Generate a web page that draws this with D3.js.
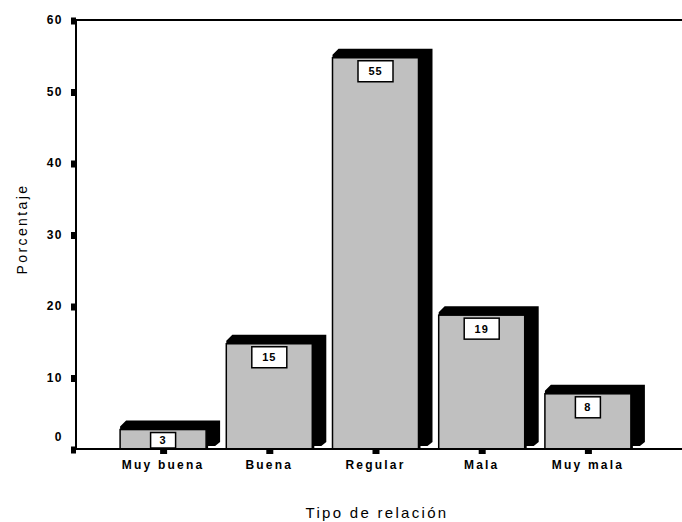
<!DOCTYPE html>
<html>
<head>
<meta charset="utf-8">
<script src="https://cdn.jsdelivr.net/npm/d3@7"></script>
<style>
  html, body { margin: 0; padding: 0; background: #fff; }
  svg { display: block; }
  text { font-family: "Liberation Sans", Arial, sans-serif; fill: #000; }
</style>
</head>
<body>
<script>
// Tipo de relación: percentage of respondents per category
const categories = ["Muy buena", "Buena", "Regular", "Mala", "Muy mala"];
const percentages = [3, 15, 55, 19, 8];
const yTicks = [0, 10, 20, 30, 40, 50, 60];

const W = 682, H = 522;
const svg = d3.select("body").append("svg").attr("width", W).attr("height", H);
svg.append("rect").attr("width", W).attr("height", H).attr("fill", "#fff");

const axisX = 76, baseY = 449, topY = 20;
const y = d3.scaleLinear().domain([0, 60]).range([baseY, topY]);
const x = d3.scaleBand().domain(categories).range([110, 641]).paddingInner(0).paddingOuter(0);

const faceW = 86, dx = 14, dy = 9;

// Bars: black extruded side/top behind a grey front face
const bars = svg.append("g");
categories.forEach((c, i) => {
  const v = percentages[i];
  const cx = x(c) + x.bandwidth() / 2;
  const x0 = cx - faceW / 2, x1 = cx + faceW / 2;
  const yF = y(v) + 2, yB = yF - dy;
  const pts = [
    [x0, yF], [x0, yF - 3], [x0 + 6, yB], [x1 + dx, yB],
    [x1 + dx, baseY - 7], [x1 + dx - 5, baseY - 3], [x1 + 2, baseY - 3], [x1 + 2, baseY], [x1, baseY]
  ];
  bars.append("polygon").attr("points", pts.map(p => p.join(",")).join(" ")).attr("fill", "#000");
  bars.append("rect")
    .attr("x", x0).attr("y", yF).attr("width", x1 - x0).attr("height", baseY - yF)
    .attr("fill", "#c0c0c0").attr("stroke", "#000").attr("stroke-width", 1.5);

  // value label box
  const label = String(v);
  const bw = label.length > 1 ? 35 : 25;
  const bt = yF + 3;
  const bb = Math.min(bt + 21, baseY - 1);
  bars.append("rect")
    .attr("x", cx - bw / 2).attr("y", bt).attr("width", bw).attr("height", bb - bt)
    .attr("fill", "#fff").attr("stroke", "#000").attr("stroke-width", 1.5);
  bars.append("text")
    .attr("x", cx).attr("y", (bt + bb) / 2 + 4)
    .attr("text-anchor", "middle").attr("font-size", 11).attr("font-weight", "bold")
    .attr("letter-spacing", 1)
    .text(label);
});

// Frame lines: top rule, left axis, baseline
svg.append("line").attr("x1", axisX).attr("x2", W).attr("y1", topY).attr("y2", topY)
  .attr("stroke", "#000").attr("stroke-width", 2);
svg.append("line").attr("x1", axisX).attr("x2", axisX).attr("y1", topY - 1).attr("y2", baseY + 1)
  .attr("stroke", "#000").attr("stroke-width", 2);
svg.append("line").attr("x1", axisX - 1).attr("x2", W).attr("y1", baseY).attr("y2", baseY)
  .attr("stroke", "#000").attr("stroke-width", 2);

// Y axis ticks and labels
const yAxis = svg.append("g").attr("transform", `translate(${axisX},0)`)
  .call(d3.axisLeft(y).tickValues(yTicks).tickSize(0).tickPadding(13));
yAxis.select(".domain").remove();
yAxis.selectAll(".tick").append("rect")
  .attr("x", -5).attr("y", -3).attr("width", 5).attr("height", 7).attr("fill", "#000");
yAxis.selectAll(".tick text")
  .attr("font-size", 12).attr("font-weight", "bold").attr("letter-spacing", 1.5)
  .attr("font-family", "Liberation Sans, Arial, sans-serif").attr("fill", "#000")
  .attr("dy", d => d === 0 ? "-0.7em" : "0.32em");

// X axis ticks and category labels
const xAxis = svg.append("g").attr("transform", `translate(0,${baseY})`)
  .call(d3.axisBottom(x).tickSize(0).tickPadding(11));
xAxis.select(".domain").remove();
xAxis.selectAll(".tick").append("rect")
  .attr("x", -3).attr("y", 1).attr("width", 7).attr("height", 4).attr("fill", "#000");
xAxis.selectAll(".tick text")
  .attr("font-size", 12).attr("font-weight", "bold").attr("letter-spacing", 2.2)
  .attr("font-family", "Liberation Sans, Arial, sans-serif").attr("fill", "#000");

// Axis titles
svg.append("text")
  .attr("transform", `translate(27,229) rotate(-90)`)
  .attr("text-anchor", "middle").attr("font-size", 14).attr("letter-spacing", 2.4)
  .text("Porcentaje");
svg.append("text")
  .attr("x", 377).attr("y", 518)
  .attr("text-anchor", "middle").attr("font-size", 15).attr("letter-spacing", 2.3)
  .text("Tipo de relación");
</script>
</body>
</html>
